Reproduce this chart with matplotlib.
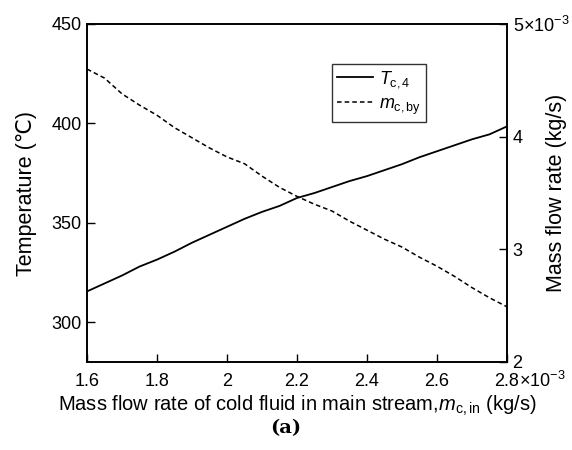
import numpy as np
import matplotlib
matplotlib.use('Agg')
import matplotlib.pyplot as plt

plt.rcParams['font.family'] = ['Liberation Sans', 'DejaVu Sans']
plt.rcParams['mathtext.fontset'] = 'custom'
plt.rcParams['mathtext.rm'] = 'Liberation Sans'
plt.rcParams['mathtext.it'] = 'Liberation Sans:italic'

# mass flow of cold fluid in main stream (x1e-3 kg/s)
m_in = [1.60, 1.65, 1.70, 1.75, 1.80, 1.85, 1.90, 1.95, 2.00, 2.05, 2.10, 2.15, 2.20,
        2.25, 2.30, 2.35, 2.40, 2.45, 2.50, 2.55, 2.60, 2.65, 2.70, 2.75, 2.80]
# outlet temperature T_c,4 (C)
t_c4 = [315.5, 319.5, 323.5, 328.0, 331.5, 335.5, 340.0, 344.0, 348.0, 352.0, 355.5, 358.5, 362.5,
        365.0, 368.0, 371.0, 373.5, 376.5, 379.5, 383.0, 386.0, 389.0, 392.0, 394.5, 398.5]
# bypass mass flow m_c,by (x1e-3 kg/s)
m_by = [4.60, 4.52, 4.38, 4.28, 4.19, 4.08, 3.99, 3.90, 3.82, 3.76, 3.65, 3.55, 3.47,
        3.40, 3.34, 3.25, 3.17, 3.09, 3.02, 2.93, 2.85, 2.76, 2.66, 2.57, 2.49]

x_ticks = [1.6, 1.8, 2.0, 2.2, 2.4, 2.6, 2.8]
x_labels = ['1.6', '1.8', '2', '2.2', '2.4', '2.6', '2.8']
yl_ticks = [300, 350, 400, 450]
yr_ticks = [2, 3, 4, 5]
yr_labels = ['2', '3', '4', '5$\\times$10$^{-3}$']

fig = plt.figure(figsize=(5.72, 4.5), dpi=100)
ax = fig.add_axes([87/572, 1 - 362/450, 420/572, 338/450])
ax2 = ax.twinx()

l1, = ax.plot(m_in, t_c4, color='black', lw=1.3, label='$T_{\\rm c,4}$')
l2, = ax2.plot(m_in, m_by, color='black', lw=1.1, ls=(0, (3, 2)), label='$m_{\\rm c,by}$')

ax.set_xlim(1.6, 2.8)
ax.set_ylim(280, 450)
ax2.set_ylim(2, 5)

ax.set_xticks(x_ticks)
ax.set_xticklabels(x_labels)
ax.set_yticks(yl_ticks)
ax2.set_yticks(yr_ticks)
ax2.set_yticklabels(yr_labels)

for a in (ax, ax2):
    a.tick_params(direction='in', length=6, width=1, labelsize=13, pad=4)
    for s in a.spines.values():
        s.set_linewidth(1.2)
ax.tick_params(axis='x', pad=8)

# x scale factor written after the last tick label
ax.text(1.0 + 12/420, -19/338, '$\\times$10$^{-3}$', transform=ax.transAxes,
        ha='left', va='center', fontsize=13)

ax.set_ylabel('Temperature (\u2103)', fontsize=15.5)
ax.yaxis.set_label_coords(-(87 - 37)/420, 0.5)
ax2.set_ylabel('Mass flow rate (kg/s)', fontsize=15.5)
ax2.yaxis.set_label_coords(1.0 + (546 - 507)/420, 0.5)
ax.set_xlabel('Mass flow rate of cold fluid in main stream,$m_{\\rm c,in}$ (kg/s)', fontsize=14.5, labelpad=3)

leg = ax.legend(handles=[l1, l2], loc='upper left', bbox_to_anchor=(0.583, 0.882),
                fontsize=13, frameon=True, fancybox=False, edgecolor='black',
                handlelength=2.0, handletextpad=0.3, borderpad=0.3, labelspacing=0.3,
                borderaxespad=0)
leg.get_frame().set_linewidth(1.0)

fig.text(0.5, 1 - 428/450, '(a)', ha='center', va='center', fontsize=14,
         family='DejaVu Serif', fontweight='bold')

fig.savefig('out.png', dpi=100)
